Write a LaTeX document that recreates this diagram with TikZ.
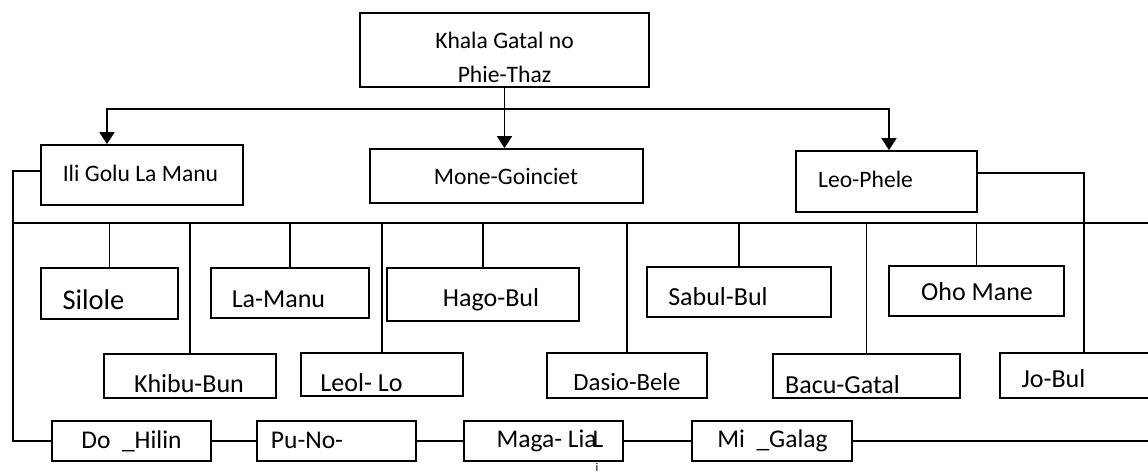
\documentclass[tikz,border=0pt]{standalone}
\usepackage{fontspec}
\setmainfont{Carlito}
\usetikzlibrary{arrows.meta,fit}

\tikzset{
  box/.style={draw, line width=1.8pt, inner sep=0pt, rectangle},
  lbl/.style={font=\fontsize{23.6pt}{28pt}\selectfont, anchor=base, inner sep=0pt},
  kid/.style={font=\fontsize{26pt}{30pt}\selectfont, anchor=base, inner sep=0pt},
  low/.style={kid, font=\fontsize{25.5pt}{30pt}\selectfont},
  wire/.style={line width=1.8pt},
  arr/.style={wire, -{Triangle[width=15pt,length=12pt]}}
}

\begin{document}
\begin{tikzpicture}[x=1pt,y=-1pt]
		\clip (0,0) rectangle (1148,475);
		% head and first level
		\node[box, fit={(360,13) (649,87)}] (khala) {};
		\node[box, fit={(41,145) (243,205)}] (ili) {};
		\node[box, fit={(370,149) (643,203)}] (mone) {};
		\node[box, fit={(796,151) (977,212)}] (leo) {};
		\node[lbl] (t-khala) at ([yshift=2pt]khala.center) {Khala Gatal no};
		\node[lbl] (t-phie) at ([yshift=-32pt]khala.center) {Phie-Thaz};
		\node[lbl] (t-ili) at ([xshift=-1.5pt,yshift=-6.7pt]ili.center) {Ili Golu La Manu};
		\node[lbl] (t-mone) at ([xshift=-0.5pt,yshift=-8.3pt]mone.center) {Mone-Goinciet};
		\node[lbl] (t-leo) at ([xshift=-21pt,yshift=-5.8pt]leo.center) {Leo-Phele};

		% children
		\node[box, fit={(41,268) (178,319)}] (silole) {};
		\node[box, fit={(211,268) (369,318)}] (lamanu) {};
		\node[box, fit={(387,268) (579,321)}] (hago) {};
		\node[box, fit={(647,267) (831,317)}] (sabul) {};
		\node[box, fit={(889,266) (1064,316)}] (oho) {};
		\node[box, fit={(104,354) (276,398)}] (khibu) {};
		\node[box, fit={(301,353) (463,396)}] (leol) {};
		\node[box, fit={(547,353) (707,398)}] (dasio) {};
		\node[box, fit={(773,354) (960,398)}] (bacu) {};
		\node[box, fit={(1000,353) (1160,398)}] (jobul) {};
		\node[kid, font=\fontsize{28.5pt}{32pt}\selectfont] (t-silole) at ([xshift=-16pt,yshift=-15.8pt]silole.center) {Silole};
		\node[kid] (t-lamanu) at ([xshift=-11.5pt,yshift=-14.3pt]lamanu.center) {La-Manu};
		\node[kid] (t-hago) at ([xshift=8pt,yshift=-11.5pt]hago.center) {Hago-Bul};
		\node[kid] (t-sabul) at ([xshift=-21pt,yshift=-13pt]sabul.center) {Sabul-Bul};
		\node[kid] (t-oho) at ([xshift=0.5pt,yshift=-9pt]oho.center) {Oho Mane};
		\node[kid] (t-khibu) at ([xshift=-1pt,yshift=-16pt]khibu.center) {Khibu-Bun};
		\node[kid] (t-leol) at ([xshift=-20.5pt,yshift=-17.2pt]leol.center) {Leol- Lo};
		\node[kid, font=\fontsize{24.8pt}{30pt}\selectfont] (t-dasio) at ([yshift=-14.5pt]dasio.center) {Dasio-Bele};
		\node[kid] (t-bacu) at ([xshift=-24pt,yshift=-17pt]bacu.center) {Bacu-Gatal};
		\node[kid] (t-jobul) at ([xshift=-26.5pt,yshift=-12pt]jobul.center) {Jo-Bul};

		% bottom chain
		\node[box, fit={(52,421) (211,461)}] (dohilin) {};
		\node[box, fit={(257,421) (416,461)}] (puno) {};
		\node[box, fit={(464,421) (623,461)}] (maga) {};
		\node[box, fit={(692,421) (852,461)}] (migalag) {};
		\node[low] (t-dohilin) at ([yshift=-7pt]dohilin.center) {Do\ \ \_Hilin};
		\node[low] (t-puno) at ([xshift=-29.5pt,yshift=-7pt]puno.center) {Pu-No-};
		\node[low] (t-maga) at ([xshift=6.5pt,yshift=-6pt]maga.center) {Maga- Lia\kern-4pt L};
		\node[low] (t-migalag) at ([xshift=0.5pt,yshift=-6.5pt]migalag.center) {Mi\ \ \_Galag};
		\node[kid, font=\fontsize{12pt}{14pt}\selectfont] (tail) at (597,471) {i};

		\coordinate (hl) at (107,108.7);
		\coordinate (hr) at (889,108.7);
		\coordinate (bus-l) at (13,223);
		\coordinate (bus-r) at (1148,223);

		\draw[arr] (khala.south) -- (khala.south |- mone.north);
		\draw[wire, {Triangle[width=15pt,length=12pt]}-{Triangle[width=15pt,length=12pt]}] (hl |- ili.north) -- (hl) -- (hr) -- (hr |- leo.north);

		\draw[wire] ([yshift=4pt]ili.west) -| (bus-l) |- (dohilin.west);
		\draw[wire] (bus-l) -- (bus-r);
		\foreach \n in {silole,lamanu,hago,sabul,oho,khibu,leol,dasio,bacu}
		\draw[wire] (\n.north) -- (\n.north |- bus-l);
		\draw[wire] ([yshift=8.5pt]leo.east) -| ([xshift=4pt]jobul.north);

		\foreach \a/\b in {dohilin/puno,puno/maga,maga/migalag}
		\draw[wire] (\a.east) -- (\b.west);
		\draw[wire] (migalag.east) -- (migalag.east -| bus-r);
	\end{tikzpicture}
\end{document}
